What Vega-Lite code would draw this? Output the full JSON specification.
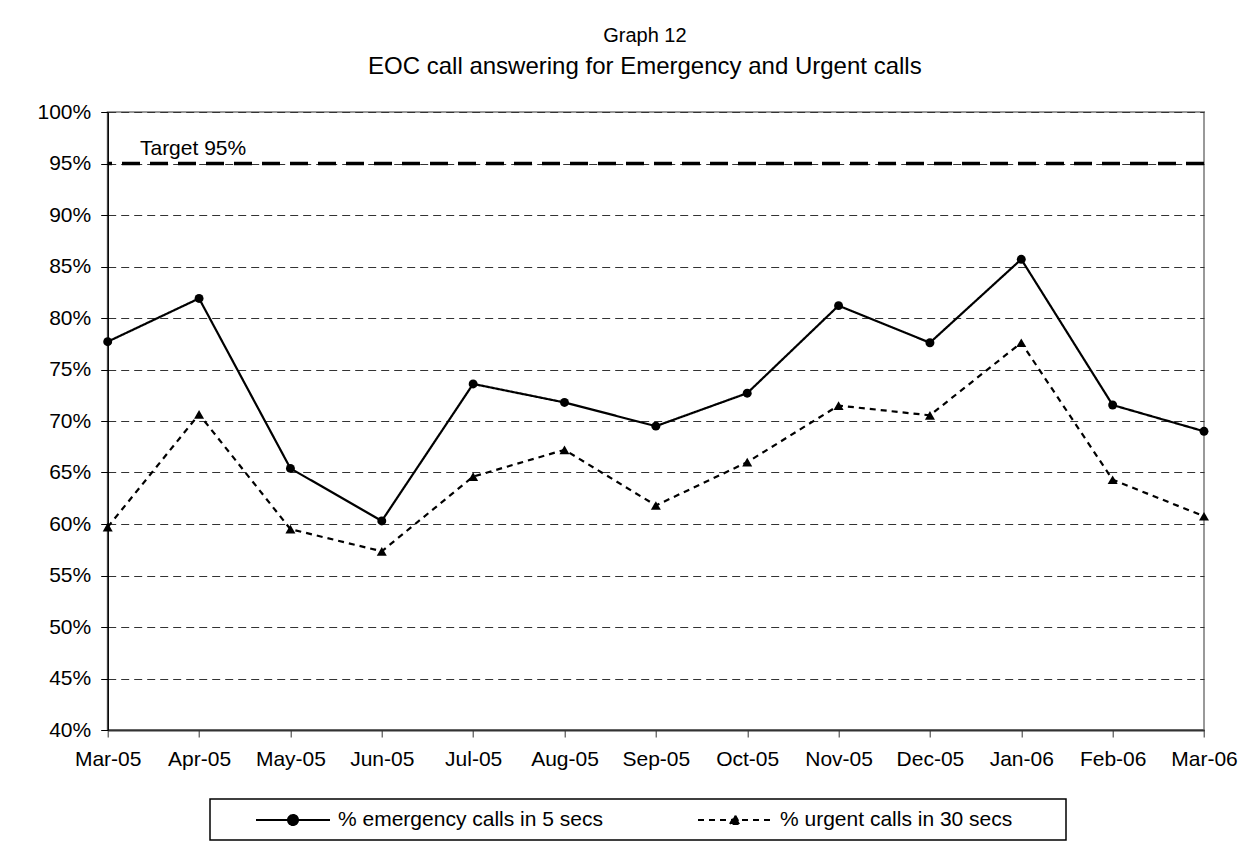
{
  "$schema": "https://vega.github.io/schema/vega-lite/v6.json",
  "width": 1096.3,
  "height": 618,
  "autosize": {"type": "none"},
  "padding": {"left": 107.7, "top": 112, "right": 48, "bottom": 120},
  "background": "white",
  "title": {
    "text": "Graph 12",
    "subtitle": "EOC call answering for Emergency and Urgent calls",
    "anchor": "middle",
    "frame": "group",
    "dx": -11,
    "offset": 22,
    "font": "Liberation Sans",
    "fontSize": 20,
    "fontWeight": "normal",
    "color": "black",
    "subtitleFont": "Liberation Sans",
    "subtitleFontSize": 24,
    "subtitleColor": "black",
    "subtitlePadding": 9
  },
  "config": {
    "view": {"stroke": "#999999", "strokeWidth": 2},
    "font": "Liberation Sans",
    "axis": {
      "labelFont": "Liberation Sans",
      "labelFontSize": 21,
      "labelColor": "black",
      "tickColor": "black"
    }
  },
  "datasets": {
    "calls": [
      {"month": "Mar-05", "series": "% emergency calls in 5 secs", "value": 77.7},
      {"month": "Apr-05", "series": "% emergency calls in 5 secs", "value": 81.9},
      {"month": "May-05", "series": "% emergency calls in 5 secs", "value": 65.4},
      {"month": "Jun-05", "series": "% emergency calls in 5 secs", "value": 60.3},
      {"month": "Jul-05", "series": "% emergency calls in 5 secs", "value": 73.6},
      {"month": "Aug-05", "series": "% emergency calls in 5 secs", "value": 71.8},
      {"month": "Sep-05", "series": "% emergency calls in 5 secs", "value": 69.5},
      {"month": "Oct-05", "series": "% emergency calls in 5 secs", "value": 72.7},
      {"month": "Nov-05", "series": "% emergency calls in 5 secs", "value": 81.2},
      {"month": "Dec-05", "series": "% emergency calls in 5 secs", "value": 77.6},
      {"month": "Jan-06", "series": "% emergency calls in 5 secs", "value": 85.7},
      {"month": "Feb-06", "series": "% emergency calls in 5 secs", "value": 71.55},
      {"month": "Mar-06", "series": "% emergency calls in 5 secs", "value": 69.0},
      {"month": "Mar-05", "series": "% urgent calls in 30 secs", "value": 59.7},
      {"month": "Apr-05", "series": "% urgent calls in 30 secs", "value": 70.65},
      {"month": "May-05", "series": "% urgent calls in 30 secs", "value": 59.5},
      {"month": "Jun-05", "series": "% urgent calls in 30 secs", "value": 57.35},
      {"month": "Jul-05", "series": "% urgent calls in 30 secs", "value": 64.6},
      {"month": "Aug-05", "series": "% urgent calls in 30 secs", "value": 67.2},
      {"month": "Sep-05", "series": "% urgent calls in 30 secs", "value": 61.8},
      {"month": "Oct-05", "series": "% urgent calls in 30 secs", "value": 66.0},
      {"month": "Nov-05", "series": "% urgent calls in 30 secs", "value": 71.5},
      {"month": "Dec-05", "series": "% urgent calls in 30 secs", "value": 70.55},
      {"month": "Jan-06", "series": "% urgent calls in 30 secs", "value": 77.6},
      {"month": "Feb-06", "series": "% urgent calls in 30 secs", "value": 64.3},
      {"month": "Mar-06", "series": "% urgent calls in 30 secs", "value": 60.75}
    ],
    "target": [
      {"target": 95, "label": "Target 95%", "month": "Apr-05"}
    ]
  },
  "layer": [
    {
      "data": {"name": "target"},
      "mark": {"type": "rule", "color": "black", "strokeWidth": 3.5, "strokeDash": [18, 10]},
      "encoding": {
        "y": {"field": "target", "type": "quantitative"}
      }
    },
    {
      "data": {"name": "target"},
      "mark": {"type": "text", "font": "Liberation Sans", "fontSize": 21, "color": "black", "align": "center", "baseline": "alphabetic", "dx": -6, "dy": -9},
      "encoding": {
        "x": {"field": "month", "type": "ordinal"},
        "y": {"field": "target", "type": "quantitative"},
        "text": {"field": "label"}
      }
    },
    {
      "data": {"name": "calls"},
      "mark": {"type": "line", "color": "black", "strokeWidth": 2.2},
      "encoding": {
        "x": {
          "field": "month",
          "type": "ordinal",
          "sort": ["Mar-05", "Apr-05", "May-05", "Jun-05", "Jul-05", "Aug-05", "Sep-05", "Oct-05", "Nov-05", "Dec-05", "Jan-06", "Feb-06", "Mar-06"],
          "scale": {"type": "point", "padding": 0, "domain": ["Mar-05", "Apr-05", "May-05", "Jun-05", "Jul-05", "Aug-05", "Sep-05", "Oct-05", "Nov-05", "Dec-05", "Jan-06", "Feb-06", "Mar-06"]},
          "axis": {"title": null, "labelAngle": 0, "labelAlign": "center", "labelBaseline": "top", "tickSize": 7, "labelPadding": 11, "domainColor": "#333333", "domainWidth": 2, "grid": false, "tickColor": "#333333", "tickWidth": 1}
        },
        "y": {
          "field": "value",
          "type": "quantitative",
          "scale": {"domain": [40, 100], "nice": false, "zero": false},
          "axis": {"title": null, "values": [40, 45, 50, 55, 60, 65, 70, 75, 80, 85, 90, 95, 100], "labelExpr": "datum.value + '%'", "labelAlign": "right", "labelBaseline": "middle", "tickSize": 7, "labelPadding": 10, "domainColor": "black", "domainWidth": 1.5, "grid": true, "gridDash": [8, 5], "gridColor": "#333333", "gridWidth": 1}
        },
        "strokeDash": {
          "field": "series",
          "type": "nominal",
          "scale": {"domain": ["% emergency calls in 5 secs", "% urgent calls in 30 secs"], "range": [[1, 0], [6, 5]]},
          "legend": {
            "orient": "none",
            "legendX": 102.3,
            "legendY": 687,
            "direction": "horizontal",
            "columns": 2,
            "gridAlign": "each",
            "title": null,
            "strokeColor": "black",
            "fillColor": "white",
            "padding": 10,
            "symbolSize": 400,
            "symbolStrokeWidth": 2,
            "symbolStrokeColor": "black",
            "labelOffset": 96,
            "labelFontSize": 21,
            "labelFont": "Liberation Sans",
            "labelColor": "black",
            "labelLimit": 600,
            "columnPadding": 59,
            "encode": {
              "legend": {"update": {"strokeWidth": {"value": 1.5}}},
              "symbols": {
                "update": {
                  "shape": {"signal": "datum.value === '% emergency calls in 5 secs' ? 'M2.5,0H9.9M5.7,0A0.5,0.5 0 1,0 6.7,0A0.5,0.5 0 1,0 5.7,0Z' : 'M2.5,0H9.9M5.7,0.4L6.2,-0.5L6.7,0.4ZM37.9,0'"},
                  "fill": {"value": "black"},
                  "stroke": {"value": "black"}
                }
              }
            }
          }
        }
      }
    },
    {
      "data": {"name": "calls"},
      "mark": {"type": "point", "filled": true, "color": "black", "opacity": 1},
      "encoding": {
        "x": {"field": "month", "type": "ordinal"},
        "y": {"field": "value", "type": "quantitative"},
        "shape": {
          "condition": {"test": "datum.series === '% emergency calls in 5 secs'", "value": "circle"},
          "value": "triangle-up"
        },
        "size": {
          "condition": {"test": "datum.series === '% emergency calls in 5 secs'", "value": 80},
          "value": 100
        }
      }
    }
  ]
}
